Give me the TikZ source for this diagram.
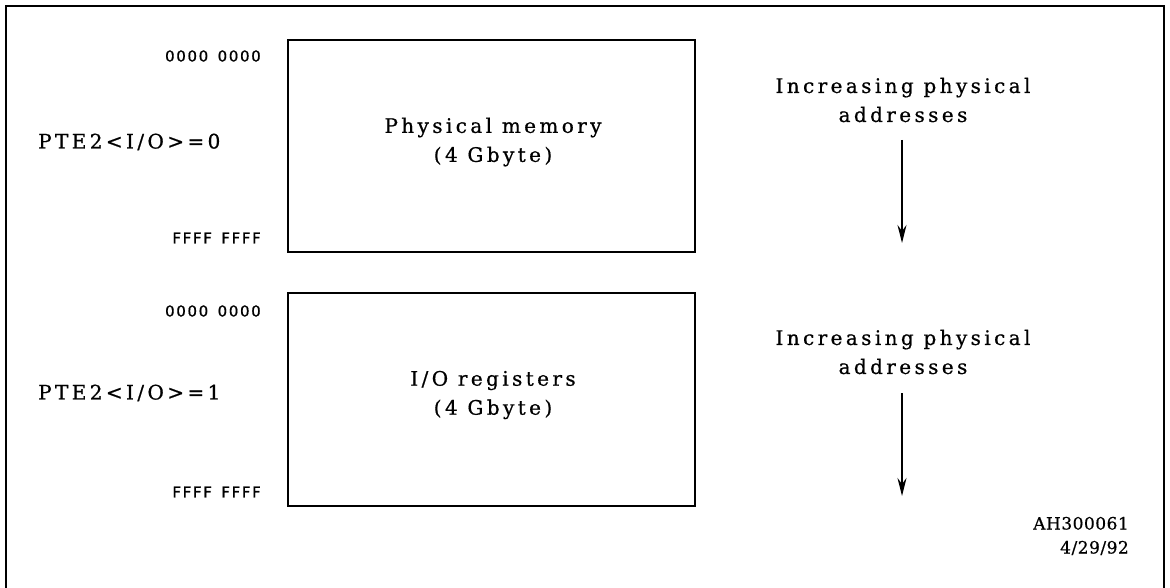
\documentclass[tikz,border=0pt]{standalone}
\usepackage{fontspec}
\usetikzlibrary{arrows.meta}
\newfontfamily\lblfont[LetterSpace=17,FakeBold=0.7]{DejaVu Serif}
\newfontfamily\hexfont[LetterSpace=11,FakeBold=0.6]{DejaVu Sans}
\newfontfamily\idfont[LetterSpace=3,FakeBold=0.6]{DejaVu Serif}
\begin{document}
\begin{tikzpicture}[x=1pt,y=-1pt,
  membox/.style={draw,line width=1.6pt},
  lbl/.style={inner sep=0pt,align=center,font=\lblfont\fontsize{20}{29}\selectfont},
  hex/.style={inner sep=0pt,anchor=east,font=\hexfont\fontsize{15}{18}\selectfont},
  pte/.style={inner sep=0pt,anchor=west,font=\lblfont\fontsize{20}{29}\selectfont},
  idtxt/.style={inner sep=0pt,align=right,anchor=east,font=\idfont\fontsize{17}{24}\selectfont},
  down/.style={line width=1.3pt,-{Stealth[length=18pt,width=9pt,inset=6pt]}}]
\useasboundingbox (0,0) rectangle (1170,588);
\draw[line width=2.8pt] (6,590) -- (6,6) -- (1164,6) -- (1164,590);
% boxes
\node[membox,minimum width=407pt,minimum height=212pt,inner sep=0pt] (mem) at (491.5,146) {};
\node[membox,minimum width=407pt,minimum height=213pt,inner sep=0pt] (io) at (491.5,399.5) {};
\node[lbl] (memt) at (493,142) {Physical memory\\(4 Gbyte)};
\node[lbl] (iot) at (493,395) {I/O registers\\(4 Gbyte)};
% hex labels
\node[hex] (h1) at (261,56) {0000\hspace{3pt} 0000};
\node[hex] (h2) at (261,238) {FFFF\hspace{3pt} FFFF};
\node[hex] (h3) at (261,311) {0000\hspace{3pt} 0000};
\node[hex] (h4) at (261,492) {FFFF\hspace{3pt} FFFF};
\node[pte] (p1) at (38,142) {PTE2<I/O>=0};
\node[pte] (p2) at (38,393) {PTE2<I/O>=1};
% right side
\node[lbl] (inc1) at (903,100) {Increasing physical\\addresses};
\node[lbl] (inc2) at (903,352) {Increasing physical\\addresses};
\coordinate (a1s) at (902,140);
\coordinate (a1e) at (902,243);
\coordinate (a2s) at (902,393);
\coordinate (a2e) at (902,496);
\draw[down] (a1s) -- (a1e);
\draw[down] (a2s) -- (a2e);
\node[idtxt] (id) at (1129,536) {AH300061\\4/29/92};
\end{tikzpicture}
\end{document}
